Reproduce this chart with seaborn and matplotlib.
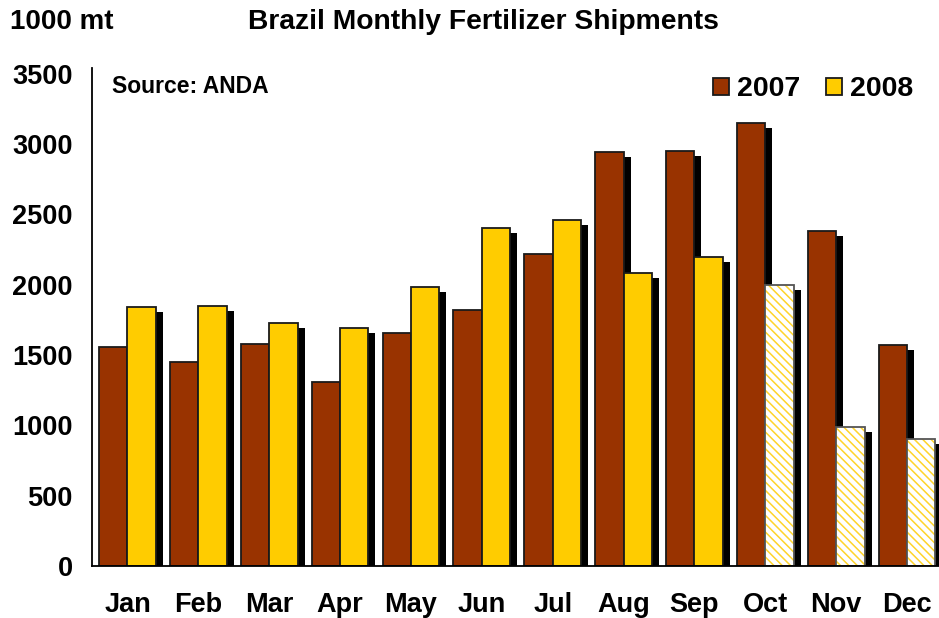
import pandas as pd
import matplotlib
matplotlib.use("Agg")
import matplotlib.pyplot as plt
import matplotlib.patheffects as pe
from matplotlib.patches import Rectangle
import seaborn as sns

# data (1000 mt)
months = ['Jan', 'Feb', 'Mar', 'Apr', 'May', 'Jun', 'Jul', 'Aug', 'Sep', 'Oct', 'Nov', 'Dec']
ship_2007 = [1560, 1450, 1580, 1310, 1660, 1820, 2220, 2940, 2950, 3150, 2380, 1570]
ship_2008 = [1840, 1850, 1730, 1690, 1980, 2400, 2460, 2080, 2200, 2000, 990, 900]
# months where the 2008 figure is a projection (hatched)
projected_2008 = ['Oct', 'Nov', 'Dec']
yticks = [0, 500, 1000, 1500, 2000, 2500, 3000, 3500]

C2007 = '#993300'
C2008 = '#FFCC00'

df = pd.DataFrame({
    'month': months * 2,
    'year': ['2007'] * 12 + ['2008'] * 12,
    'value': ship_2007 + ship_2008,
})

sns.set_style("white")
plt.rcParams['font.family'] = ['Liberation Sans', 'DejaVu Sans']
plt.rcParams['font.weight'] = 'bold'
plt.rcParams['text.color'] = 'black'
plt.rcParams['xtick.color'] = 'black'
plt.rcParams['ytick.color'] = 'black'
plt.rcParams['hatch.linewidth'] = 1.1

fig = plt.figure(figsize=(9.39, 6.18), dpi=100)
ax = fig.add_axes([0.098, 0.084, 0.902, 0.806])

sns.barplot(data=df, x='month', y='value', hue='year', order=months,
            palette={'2007': C2007, '2008': C2008}, saturation=1,
            edgecolor='#1a1a1a', linewidth=1.3, width=0.8, gap=0, ax=ax)

shadow = [pe.SimplePatchShadow(offset=(5, -3.6), shadow_rgbFace='black', alpha=1), pe.Normal()]
for cont in ax.containers:
    for bar in cont:
        bar.set_path_effects(shadow)

# hatched projection bars for late 2008: white base with shadow, hatch, outline
for bar, m in zip(ax.containers[1], months):
    if m in projected_2008:
        z = bar.get_zorder()
        xy, w, h = bar.get_xy(), bar.get_width(), bar.get_height()
        base = Rectangle(xy, w, h, facecolor='white', edgecolor='none', zorder=z + 0.01)
        base.set_path_effects(shadow)
        ax.add_patch(base)
        bar.set_path_effects([])
        bar.set_zorder(z + 0.02)
        bar.set_facecolor('none')
        bar.set_edgecolor('#FFD42A')
        bar.set_hatch('\\' * 4)
        bar.set_linewidth(0)
        ax.add_patch(Rectangle(xy, w, h, fill=False, edgecolor='#555555',
                               linewidth=1.3, zorder=z + 0.03))

ax.set_xlim(-0.5, 11.45)
ax.set_ylim(0, 3540)
ax.set_yticks(yticks)
ax.set_yticklabels([str(v) for v in yticks], fontsize=19.5, fontweight='bold')
ax.set_xticks(range(len(months)))
ax.set_xticklabels(months, fontsize=19.5, fontweight='bold')
ax.tick_params(axis='y', length=0, pad=14)
ax.tick_params(axis='x', length=0, pad=19)
ax.set_xlabel('')
ax.set_ylabel('')

sns.despine(ax=ax)
for s in ['left', 'bottom']:
    ax.spines[s].set_color('black')
    ax.spines[s].set_linewidth(1.3)

ax.legend(loc='upper right', bbox_to_anchor=(1.0, 1.035), frameon=False, ncol=2,
          prop={'size': 20.5, 'weight': 'bold'}, handlelength=0.55, handleheight=0.55,
          handletextpad=0.3, columnspacing=0.9)

ax.text(0.023, 0.985, 'Source: ANDA', transform=ax.transAxes, fontsize=16.5,
        fontweight='bold', va='top', ha='left')
fig.text(0.011, 0.965, '1000 mt', fontsize=20, fontweight='bold', va='center', ha='left')
fig.text(0.515, 0.965, 'Brazil Monthly Fertilizer Shipments', fontsize=20.3,
         fontweight='bold', va='center', ha='center')

fig.savefig('out.png', dpi=100)
